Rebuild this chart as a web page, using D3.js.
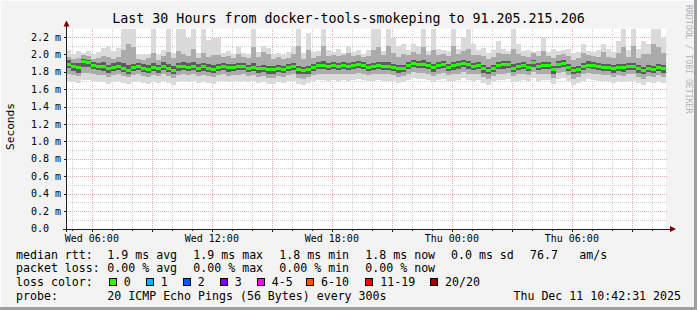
<!DOCTYPE html>
<html><head><meta charset="utf-8">
<script src="https://cdn.jsdelivr.net/npm/d3@7"></script>
<style>html,body{margin:0;padding:0;background:#f3f3f3;overflow:hidden}svg{display:block}text{font-family:"DejaVu Sans Mono",monospace;fill:#000}</style>
</head><body><svg id="c" width="697" height="310"></svg>
<script>
// ---------------- data ----------------
const title = "Last 30 Hours from docker-tools-smokeping to 91.205.215.206";
const yAxisTitle = "Seconds";
const watermark = "RRDTOOL / TOBI OETIKER";
const yTicks = [0,0.2,0.4,0.6,0.8,1.0,1.2,1.4,1.6,1.8,2.0,2.2];
const yTickLabels = ["0.0\u00a0\u00a0","0.2 m","0.4 m","0.6 m","0.8 m","1.0 m","1.2 m","1.4 m","1.6 m","1.8 m","2.0 m","2.2 m"];
const endTime = Date.UTC(2025,11,11,10,42,31);
const spanHours = 30;
const stepMinutes = 15;

const median = [
1.889,1.858,1.850,1.920,1.908,1.874,1.862,1.858,1.835,1.851,1.862,1.840,1.820,1.851,1.858,1.840,1.831,1.854,1.835,1.866,1.840,1.816,1.858,1.866,1.851,1.862,1.843,1.858,1.840,1.831,
1.851,1.862,1.847,1.854,1.858,1.862,1.843,1.854,1.835,1.843,1.828,1.828,1.843,1.831,1.851,1.862,1.828,1.812,1.828,1.854,1.870,1.877,1.858,1.874,1.862,1.874,1.862,1.870,1.885,1.874,
1.854,1.858,1.870,1.866,1.866,1.854,1.839,1.843,1.874,1.897,1.885,1.889,1.874,1.847,1.874,1.885,1.854,1.870,1.881,1.897,1.881,1.866,1.874,1.843,1.816,1.843,1.874,1.881,1.885,1.843,
1.858,1.874,1.854,1.904,1.862,1.870,1.874,1.828,1.881,1.893,1.851,1.816,1.831,1.862,1.877,1.874,1.858,1.854,1.851,1.835,1.851,1.847,1.858,1.862,1.835,1.820,1.839,1.828,1.847,1.835];

const maxPing = [
2.05,2.00,2.04,2.02,2.04,2.00,2.03,2.07,2.10,2.04,2.07,2.35,2.35,2.35,2.00,1.99,2.01,2.35,1.99,2.05,2.35,2.02,2.35,2.35,2.19,2.35,2.02,2.35,2.16,2.19,
2.19,2.02,2.04,2.01,2.08,2.02,2.00,2.35,2.03,2.10,2.07,2.00,2.02,1.99,2.03,2.08,2.35,2.02,2.25,2.03,2.04,2.35,2.05,2.03,2.06,2.02,2.10,2.03,2.05,2.00,
2.05,2.35,2.35,2.04,2.35,2.19,2.10,2.12,2.05,2.12,2.10,2.35,2.04,2.35,2.06,2.05,2.04,2.35,2.06,2.20,2.30,2.12,2.05,2.07,2.02,2.05,2.15,2.06,2.04,2.35,
2.12,2.04,2.05,2.03,2.04,2.19,2.03,2.06,2.04,2.05,2.06,2.02,2.03,2.12,2.04,2.03,2.05,2.12,2.06,2.03,2.15,2.35,2.05,2.35,2.06,2.15,2.12,2.35,2.30,2.19];

const highMid = [
1.97,1.95,1.96,1.99,1.98,1.95,1.96,1.98,1.97,1.95,1.97,2.05,2.12,2.08,1.95,1.94,1.96,2.02,1.94,1.98,2.03,1.96,2.04,2.00,1.98,2.06,1.96,2.02,1.97,1.99,
1.99,1.97,1.98,1.96,2.00,1.97,1.96,2.08,1.97,2.03,2.00,1.95,1.97,1.95,1.96,2.00,2.10,1.95,2.05,1.96,1.98,2.10,1.98,1.99,1.98,1.99,2.02,1.98,1.99,1.97,
1.98,2.05,2.08,1.99,2.10,2.02,1.97,2.00,1.99,2.03,2.01,2.08,1.99,2.05,1.99,2.00,1.98,2.10,2.00,2.04,2.06,1.99,1.99,1.98,1.95,1.97,2.02,2.00,2.00,2.06,
2.00,1.98,1.97,2.02,1.98,2.04,1.98,1.96,1.99,2.00,1.98,1.94,1.96,2.02,1.99,1.98,1.97,2.03,1.97,1.96,2.02,2.08,1.97,2.10,1.96,2.00,2.01,2.12,2.08,2.02];

const highDark = [
1.93,1.90,1.90,1.95,1.94,1.91,1.90,1.91,1.88,1.90,1.91,1.90,1.88,1.89,1.90,1.89,1.88,1.90,1.88,1.91,1.89,1.87,1.90,1.91,1.90,1.91,1.89,1.90,1.89,1.88,
1.89,1.90,1.89,1.89,1.90,1.90,1.88,1.90,1.87,1.88,1.87,1.87,1.88,1.87,1.89,1.90,1.87,1.86,1.87,1.89,1.91,1.92,1.90,1.91,1.90,1.91,1.90,1.91,1.92,1.91,
1.89,1.90,1.91,1.91,1.91,1.89,1.88,1.88,1.91,1.93,1.92,1.93,1.91,1.89,1.91,1.92,1.89,1.91,1.92,1.93,1.92,1.90,1.91,1.88,1.86,1.88,1.91,1.92,1.92,1.89,
1.90,1.91,1.89,1.94,1.90,1.91,1.91,1.87,1.92,1.93,1.89,1.86,1.87,1.90,1.92,1.91,1.90,1.89,1.89,1.88,1.89,1.89,1.90,1.90,1.88,1.86,1.88,1.87,1.89,1.88];

const lowDark = [
1.84,1.81,1.79,1.86,1.86,1.83,1.82,1.81,1.79,1.81,1.82,1.80,1.78,1.81,1.82,1.80,1.79,1.81,1.79,1.82,1.80,1.77,1.81,1.82,1.81,1.82,1.80,1.81,1.80,1.79,
1.81,1.82,1.80,1.81,1.82,1.82,1.80,1.81,1.79,1.80,1.78,1.78,1.80,1.79,1.81,1.82,1.78,1.77,1.78,1.81,1.83,1.83,1.82,1.83,1.82,1.83,1.82,1.83,1.84,1.83,
1.81,1.82,1.83,1.82,1.82,1.81,1.79,1.80,1.83,1.85,1.84,1.84,1.83,1.80,1.83,1.84,1.81,1.82,1.83,1.85,1.83,1.82,1.83,1.79,1.77,1.80,1.83,1.83,1.84,1.80,
1.82,1.83,1.81,1.85,1.82,1.83,1.83,1.78,1.84,1.85,1.81,1.77,1.79,1.82,1.84,1.83,1.82,1.81,1.81,1.79,1.81,1.80,1.82,1.82,1.79,1.77,1.80,1.79,1.81,1.79];

const lowMid = [
1.78,1.76,1.75,1.79,1.79,1.77,1.76,1.76,1.74,1.76,1.77,1.75,1.74,1.76,1.77,1.75,1.74,1.76,1.75,1.77,1.75,1.73,1.76,1.77,1.76,1.77,1.75,1.76,1.75,1.74,
1.76,1.77,1.75,1.76,1.76,1.77,1.75,1.76,1.74,1.75,1.73,1.73,1.75,1.74,1.76,1.77,1.73,1.72,1.74,1.76,1.78,1.78,1.77,1.78,1.77,1.78,1.77,1.78,1.79,1.78,
1.76,1.77,1.78,1.77,1.77,1.76,1.74,1.75,1.78,1.80,1.79,1.79,1.78,1.75,1.78,1.79,1.76,1.77,1.78,1.80,1.78,1.77,1.78,1.74,1.72,1.75,1.78,1.78,1.79,1.75,
1.77,1.78,1.76,1.80,1.77,1.78,1.78,1.73,1.79,1.80,1.76,1.72,1.74,1.77,1.79,1.78,1.77,1.76,1.76,1.74,1.76,1.75,1.77,1.77,1.74,1.72,1.75,1.74,1.76,1.74];

const minPing = [
1.70,1.68,1.67,1.71,1.71,1.69,1.68,1.68,1.66,1.68,1.69,1.67,1.66,1.68,1.69,1.67,1.66,1.68,1.67,1.69,1.67,1.65,1.68,1.69,1.68,1.69,1.67,1.68,1.67,1.66,
1.69,1.70,1.68,1.69,1.70,1.70,1.68,1.69,1.67,1.68,1.66,1.66,1.68,1.67,1.69,1.70,1.66,1.65,1.67,1.69,1.71,1.71,1.70,1.71,1.70,1.71,1.70,1.71,1.72,1.71,
1.69,1.70,1.71,1.70,1.70,1.69,1.67,1.68,1.71,1.73,1.72,1.72,1.71,1.68,1.71,1.72,1.69,1.70,1.71,1.73,1.71,1.70,1.71,1.67,1.65,1.68,1.71,1.71,1.72,1.68,
1.70,1.71,1.69,1.73,1.70,1.71,1.71,1.66,1.72,1.73,1.69,1.65,1.67,1.70,1.72,1.71,1.70,1.69,1.69,1.67,1.69,1.68,1.70,1.70,1.67,1.65,1.68,1.67,1.69,1.67];

const legendRtt = ["median rtt:","1.9 ms avg","1.9 ms max","1.8 ms min","1.8 ms now","0.0 ms sd","76.7","am/s"];
const legendLoss = ["packet loss:","0.00 % avg","0.00 % max","0.00 % min","0.00 % now"];
const lossLabels = ["0","1","2","3","4-5","6-10","11-19","20/20"];
const lossColors = ["#26ff00","#00b8ff","#0059ff","#7e00ff","#ff00ff","#ff5500","#ff0000","#a10000"];
const probeText = ["probe:","20 ICMP Echo Pings (56 Bytes) every 300s"];
const stampText = "Thu Dec 11 10:42:31 2025";

// ---------------- layout ----------------
const svg = d3.select("#c");
const W = 697, H = 310;
const L = 66, R = 666, T = 28.5, B = 228.5;
const startTime = endTime - spanHours*3600e3;
const x = d3.scaleUtc().domain([new Date(startTime), new Date(endTime)]).range([L, R]);
const y = d3.scaleLinear().domain([0, 2.2976]).range([B, T]).clamp(true);

// background + frame
svg.append("rect").attr("width",W).attr("height",H).attr("fill","#f3f3f3");
svg.append("path").attr("d",`M0,${H-1.5}H${W-1.5}V0`).attr("stroke","#9e9e9e").attr("stroke-width",3).attr("fill","none");
svg.append("path").attr("d",`M0.5,${H-3}V0.5H${W-3}`).attr("stroke","#fcfcfc").attr("stroke-width",1).attr("fill","none");

// canvas
svg.append("rect").attr("x",L).attr("y",T).attr("width",R-L).attr("height",B-T).attr("fill","#ffffff");

// grid (behind data)
const gGrid = svg.append("g").attr("shape-rendering","crispEdges").attr("stroke-dasharray","1,1").attr("stroke-width",1);
const minorY = d3.range(1,23,2).map(v=>v/10);
const hours = d3.utcHour.range(new Date(startTime), new Date(endTime));
const majors = hours.filter(h=>h.getUTCHours()%3===0);
gGrid.selectAll(".hmin").data(minorY).join("line")
  .attr("x1",L).attr("x2",R+2).attr("y1",d=>Math.round(y(d))+0.5).attr("y2",d=>Math.round(y(d))+0.5).attr("stroke","#cfcfcf");
gGrid.selectAll(".vmin").data(hours.filter(h=>h.getUTCHours()%3!==0)).join("line")
  .attr("y1",T).attr("y2",B).attr("x1",d=>Math.round(x(d))+0.5).attr("x2",d=>Math.round(x(d))+0.5).attr("stroke","#cfcfcf");
gGrid.selectAll(".hmaj").data(yTicks.slice(1)).join("line")
  .attr("x1",L).attr("x2",R+2).attr("y1",d=>Math.round(y(d))+0.5).attr("y2",d=>Math.round(y(d))+0.5).attr("stroke","#efacac");
gGrid.selectAll(".vmaj").data(majors).join("line")
  .attr("y1",T).attr("y2",B).attr("x1",d=>Math.round(x(d))+0.5).attr("x2",d=>Math.round(x(d))+0.5).attr("stroke","#efacac");

// smoke
const seg = median.map((m,i)=>({
  t0:new Date(startTime + i*stepMinutes*60e3),
  t1:new Date(startTime + (i+1)*stepMinutes*60e3),
  m, mx:maxPing[i], hm:highMid[i], hd:highDark[i], ld:lowDark[i], lm:lowMid[i], mn:minPing[i]}));
const bands = [["mn","mx","#dadada"],["lm","hm","#ababab"],["ld","hd","#5c5c5c"]];
const gSmoke = svg.append("g").attr("shape-rendering","crispEdges");
bands.forEach(([lo,hi,col])=>{
  gSmoke.append("g").selectAll("rect").data(seg).join("rect")
    .attr("x",d=>x(d.t0)).attr("width",d=>x(d.t1)-x(d.t0))
    .attr("y",d=>y(d[hi])).attr("height",d=>y(d[lo])-y(d[hi]))
    .attr("fill",col);
});
// median bars
svg.append("g").attr("shape-rendering","crispEdges").selectAll("rect").data(seg).join("rect")
  .attr("x",d=>x(d.t0)).attr("width",d=>x(d.t1)-x(d.t0))
  .attr("y",d=>y(d.m)-1.5).attr("height",3).attr("fill",lossColors[0]);

// axes
const axisCol = "#202020";
const gAx = svg.append("g").attr("shape-rendering","crispEdges");
gAx.append("line").attr("x1",L+0.5).attr("x2",L+0.5).attr("y1",B+3).attr("y2",T-3).attr("stroke",axisCol);
gAx.append("line").attr("x1",L-3).attr("x2",R+5).attr("y1",B+0.5).attr("y2",B+0.5).attr("stroke",axisCol);
gAx.selectAll(".yt").data(yTicks).join("line")
  .attr("x1",L-2).attr("x2",L).attr("y1",d=>Math.round(y(d))+0.5).attr("y2",d=>Math.round(y(d))+0.5).attr("stroke",axisCol);
gAx.selectAll(".xt").data(hours).join("line")
  .attr("y1",B+1).attr("y2",d=>B+(d.getUTCHours()%3===0?3:2)).attr("x1",d=>Math.round(x(d))+0.5).attr("x2",d=>Math.round(x(d))+0.5).attr("stroke",axisCol);
// arrows
svg.append("path").attr("d",`M${L+0.5-3},${T-2}L${L+0.5+3},${T-2}L${L+0.5},${T-8}Z`).attr("fill","#7f0000");
svg.append("path").attr("d",`M${R+4},${B+0.5-3}L${R+4},${B+0.5+3}L${R+10},${B+0.5}Z`).attr("fill","#7f0000");

// y labels
svg.append("g").selectAll("text").data(yTicks).join("text")
  .attr("x",61).attr("y",d=>y(d)+3.6).attr("text-anchor","end").attr("font-size","10px")
  .style("white-space","pre").text((d,i)=>yTickLabels[i]);
// x labels
const labelTicks = hours.filter(h=>h.getUTCHours()%6===0);
svg.append("g").selectAll("text").data(labelTicks).join("text")
  .attr("x",d=>x(d)).attr("y",242).attr("text-anchor","middle").attr("font-size","10px")
  .text(d3.utcFormat("%a %H:%M"));

// title
svg.append("text").attr("x",W/2).attr("y",23).attr("text-anchor","middle").attr("font-size","13.3px").text(title);
// y axis title
svg.append("text").attr("transform","translate(14,126.5) rotate(-90)").attr("text-anchor","middle").attr("font-size","11.2px").text(yAxisTitle);
// watermark
svg.append("text").attr("transform","translate(686,5) rotate(90)").attr("font-size","8.2px").style("fill","#b4b4b4").text(watermark);

// legend
const fs = "11.6px";
const colX = [16,107.3,193.3,279.3,365.3,451,530,579.3];
const rows = [258.5,272.3,286,299.8];
const gl = svg.append("g").attr("font-size",fs).style("white-space","pre");
gl.selectAll(".r1").data(legendRtt).join("text").attr("x",(d,i)=>colX[i]).attr("y",rows[0]).text(d=>d);
gl.selectAll(".r2").data(legendLoss).join("text").attr("x",(d,i)=>colX[i]).attr("y",rows[1]).text(d=>d);
gl.append("text").attr("x",colX[0]).attr("y",rows[2]).text("loss color:");
const boxX = [108.7,145.7,182.7,219.7,256.7,306,365.3,430];
const gb = gl.append("g").attr("shape-rendering","crispEdges");
gb.selectAll("rect").data(lossColors).join("rect")
  .attr("x",(d,i)=>Math.round(boxX[i])+0.5).attr("y",278.5).attr("width",7).attr("height",7)
  .attr("fill",d=>d).attr("stroke","#000");
gl.selectAll(".ll").data(lossLabels).join("text").attr("x",(d,i)=>boxX[i]+15).attr("y",rows[2]).text(d=>d);
gl.selectAll(".r4").data(probeText).join("text").attr("x",(d,i)=>colX[i]).attr("y",rows[3]).text(d=>d);
gl.append("text").attr("x",681).attr("y",rows[3]).attr("text-anchor","end").text(stampText);
</script></body></html>
